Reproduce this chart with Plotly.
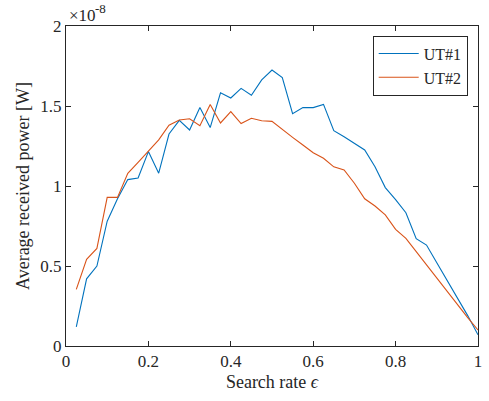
import plotly.graph_objects as go

# Search rate values
search_rate = [0.025, 0.05, 0.075, 0.1, 0.125, 0.15, 0.175, 0.2, 0.225, 0.25,
               0.275, 0.3, 0.325, 0.35, 0.375, 0.4, 0.425, 0.45, 0.475, 0.5,
               0.525, 0.55, 0.575, 0.6, 0.625, 0.65, 0.675, 0.7, 0.725, 0.75,
               0.775, 0.8, 0.825, 0.85, 0.875, 0.9, 0.925, 0.95, 0.975, 1.0]

# Average received power in units of 1e-8 W
ut1_power = [0.12, 0.42, 0.50, 0.78, 0.92, 1.04, 1.05, 1.215, 1.08, 1.325,
             1.41, 1.35, 1.49, 1.365, 1.583, 1.55, 1.61, 1.567, 1.663, 1.725,
             1.677, 1.452, 1.49, 1.49, 1.51, 1.346, 1.308, 1.267, 1.225, 1.12,
             0.99, 0.915, 0.833, 0.671, 0.631, 0.52, 0.41, 0.30, 0.19, 0.07]
ut2_power = [0.354, 0.542, 0.61, 0.929, 0.929, 1.079, 1.148, 1.215, 1.288, 1.38,
             1.413, 1.42, 1.377, 1.51, 1.394, 1.465, 1.39, 1.423, 1.408, 1.404,
             1.352, 1.304, 1.256, 1.208, 1.173, 1.12, 1.10, 1.017, 0.92, 0.875,
             0.819, 0.729, 0.673, 0.59, 0.506, 0.423, 0.34, 0.256, 0.177, 0.10]

series_names = ["UT#1", "UT#2"]
x_ticks = [0, 0.2, 0.4, 0.6, 0.8, 1]
x_ticklabels = ["0", "0.2", "0.4", "0.6", "0.8", "1"]
y_ticks = [0, 0.5, 1, 1.5, 2]
y_ticklabels = ["0", "0.5", "1", "1.5", "2"]
exp_base = "×10"
exp_power = "-8"

FONT = "'Times New Roman', 'Liberation Serif', serif"
AX = "#262626"

fig = go.Figure()
fig.add_trace(go.Scatter(x=search_rate, y=ut1_power, mode="lines", name=series_names[0],
                         line=dict(color="#0072BD", width=1.1)))
fig.add_trace(go.Scatter(x=search_rate, y=ut2_power, mode="lines", name=series_names[1],
                         line=dict(color="#D95319", width=1.1)))

axis_common = dict(showgrid=False, zeroline=False, showline=True, linecolor=AX, linewidth=1,
                   mirror="ticks", ticks="inside", ticklen=5, tickcolor=AX,
                   tickfont=dict(family=FONT, size=17, color=AX))

fig.update_layout(
    width=489, height=401,
    margin=dict(l=66, r=7, t=26, b=55),
    paper_bgcolor="white", plot_bgcolor="white",
    font=dict(family=FONT, size=17, color=AX),
    xaxis=dict(range=[0, 1], tickvals=x_ticks, ticktext=x_ticklabels,
               title=dict(text="Search rate <i>ϵ</i>", font=dict(family=FONT, size=18, color=AX), standoff=4),
               **axis_common),
    yaxis=dict(range=[0, 2], tickvals=y_ticks, ticktext=y_ticklabels,
               title=dict(text="Average received power [W]", font=dict(family=FONT, size=18, color=AX), standoff=6),
               **axis_common),
    legend=dict(x=0.975, y=0.97, xanchor="right", yanchor="top",
                bgcolor="white", bordercolor=AX, borderwidth=1,
                font=dict(family=FONT, size=16, color=AX),
                tracegroupgap=0, itemwidth=40),
    showlegend=True,
)

fig.add_annotation(text=exp_base, xref="paper", yref="paper", x=0, y=1.0,
                   xanchor="left", yanchor="bottom", showarrow=False, xshift=1, yshift=-1,
                   font=dict(family=FONT, size=17, color=AX))
fig.add_annotation(text=exp_power, xref="paper", yref="paper", x=0, y=1.0,
                   xanchor="left", yanchor="bottom", showarrow=False, xshift=27, yshift=8,
                   font=dict(family=FONT, size=13, color=AX))

fig.write_html("out.html")
